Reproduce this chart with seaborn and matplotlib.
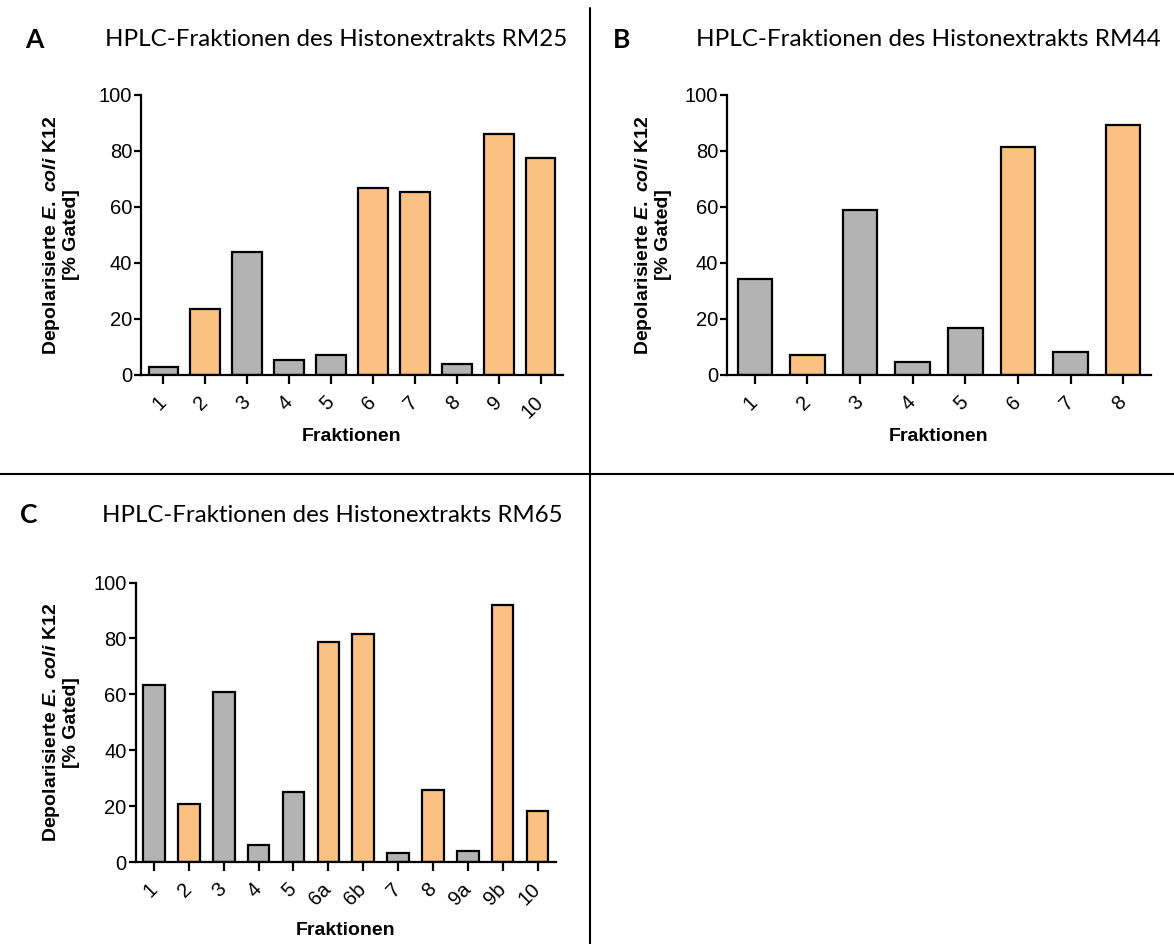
import matplotlib
matplotlib.use("Agg")
import matplotlib.pyplot as plt
from matplotlib.lines import Line2D
import pandas as pd
import seaborn as sns

# data
labels_a = ["1", "2", "3", "4", "5", "6", "7", "8", "9", "10"]
values_a = [2.9, 23.4, 44.1, 5.5, 7.0, 66.8, 65.2, 4.1, 86.1, 77.4]
active_a = [0, 1, 0, 0, 0, 1, 1, 0, 1, 1]

labels_b = ["1", "2", "3", "4", "5", "6", "7", "8"]
values_b = [34.4, 7.3, 58.8, 4.7, 16.7, 81.6, 8.1, 89.4]
active_b = [0, 1, 0, 0, 0, 1, 0, 1]

labels_c = ["1", "2", "3", "4", "5", "6a", "6b", "7", "8", "9a", "9b", "10"]
values_c = [63.2, 20.8, 60.8, 6.0, 25.2, 78.6, 81.7, 3.3, 25.9, 4.1, 91.8, 18.4]
active_c = [0, 1, 0, 0, 0, 1, 1, 0, 1, 0, 1, 1]

titles = ["HPLC-Fraktionen des Histonextrakts RM25",
          "HPLC-Fraktionen des Histonextrakts RM44",
          "HPLC-Fraktionen des Histonextrakts RM65"]

ORANGE = "#FBC182"
GRAY = "#B3B3B3"

sns.set_style("ticks")
plt.rcParams["font.family"] = ["Liberation Sans", "DejaVu Sans"]
plt.rcParams["mathtext.fontset"] = "custom"
plt.rcParams["mathtext.it"] = "Liberation Sans:italic:bold"
plt.rcParams["mathtext.rm"] = "Liberation Sans:bold"
for k in ("text.color", "axes.labelcolor", "axes.edgecolor", "xtick.color", "ytick.color"):
    plt.rcParams[k] = "black"

W, H = 1174, 944
fig = plt.figure(figsize=(W / 100, H / 100), dpi=100)


def px_axes(left, right, top, bottom):
    return fig.add_axes([left / W, 1 - bottom / H, (right - left) / W, (bottom - top) / H])


def draw_panel(ax, labels, values, active, width, ylab_x, xlab_y):
    df = pd.DataFrame({"frak": labels, "val": values,
                       "col": [ORANGE if a else GRAY for a in active]})
    pal = dict(zip(df["frak"], df["col"]))
    sns.barplot(data=df, x="frak", y="val", hue="frak", palette=pal, legend=False,
                width=width, edgecolor="black", linewidth=1.6, saturation=1, ax=ax)
    n = len(labels)
    ax.set_xlim(-0.53, n - 0.47)
    ax.set_ylim(0, 100)
    ax.set_yticks(range(0, 101, 20))
    sns.despine(ax=ax)
    for s in ("left", "bottom"):
        ax.spines[s].set_linewidth(1.6)
    ax.tick_params(axis="x", length=6.5, width=1.6, labelsize=14.5, pad=11)
    ax.tick_params(axis="y", length=5.4, width=1.6, labelsize=14.5, pad=1)
    for t in ax.get_xticklabels():
        t.set_rotation(45)
        t.set_ha("right")
        t.set_va("center")
        t.set_rotation_mode("anchor")
    ax.set_xlabel("Fraktionen", fontsize=14, fontweight="bold")
    ax.xaxis.set_label_coords(0.5, xlab_y)
    ax.set_ylabel("Depolarisierte $\\mathit{E.\\ coli}$ K12\n[% Gated]",
                  fontsize=14, fontweight="bold", linespacing=1.05)
    ax.yaxis.set_label_coords(ylab_x, 0.5)


ax_a = px_axes(141, 563, 95, 375)
draw_panel(ax_a, labels_a, values_a, active_a, 0.7, -0.145, -0.19)
ax_b = px_axes(727, 1151, 95, 375)
draw_panel(ax_b, labels_b, values_b, active_b, 0.66, -0.13, -0.19)
ax_c = px_axes(135.5, 556, 582.5, 862)
draw_panel(ax_c, labels_c, values_c, active_c, 0.62, -0.132, -0.215)

# panel letters and titles
renderer = fig.canvas.get_renderer()
heads = [("A", 25, 105, 565, 40), ("B", 613, 696, 1160, 40), ("C", 20, 102, 561, 515)]
for (letter, lx, tx, tx2, ty), title in zip(heads, titles):
    fig.text(lx / W, 1 - ty / H, letter, fontsize=19, fontweight="bold",
             family=["Lato", "DejaVu Sans"], va="center", ha="left")
    t = fig.text(tx / W, 1 - ty / H, title, fontsize=18,
                 family=["Lato", "DejaVu Sans"], va="center", ha="left")
    w = t.get_window_extent(renderer).width
    t.set_fontsize(18 * (tx2 - tx) / w)

# divider lines
fig.add_artist(Line2D([590 / W, 590 / W], [0, 1 - 8 / H], transform=fig.transFigure,
                      color="black", lw=1.5))
fig.add_artist(Line2D([0, 1], [1 - 474 / H, 1 - 474 / H], transform=fig.transFigure,
                      color="black", lw=1.5))

fig.savefig("out.png", dpi=100, facecolor="white")
